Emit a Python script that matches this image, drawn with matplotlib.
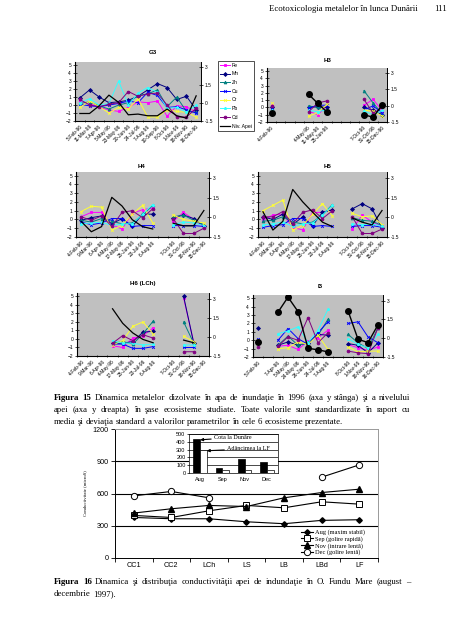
import numpy as np
import matplotlib.pyplot as plt
from matplotlib.lines import Line2D

nan = np.nan

# ---- Figura 15: standardized metals (left axis) and water level (right axis)
metals = ['Fe', 'Mn', 'Zn', 'Cu', 'Cr', 'Pb', 'Cd']

g3_dates = ['5-Feb-96', '11-Mar-96', '7-Apr-96', '5-May-96', '23-May-96', '20-Jun-96',
            '24-Jul-96', '7-Aug-96', '10-Sep-96', '8-Oct-96', '1-Nov-96', '18-Nov-96', '16-Dec-96']
h3_dates = ['4-Feb-96', '', '', '', '4-May-96', '11-May-96', '25-Jun-96',
            '', '', '', '7-Oct-96', '31-Oct-96', '15-Dec-96']
h_dates = ['4-Feb-96', '9-Mar-96', '6-Apr-96', '4-May-96', '17-May-96', '25-Jun-96',
           '23-Jul-96', '6-Aug-96', '', '7-Oct-96', '31-Oct-96', '18-Nov-96', '15-Dec-96']
i3_dates = ['5-Feb-96', '', '7-Apr-96', '5-May-96', '24-May-96', '26-Jun-96',
            '24-Jul-96', '7-Aug-96', '', '8-Oct-96', '1-Nov-96', '18-Nov-96', '16-Dec-96']

G3 = dict(
    Fe=[0.5, 0.2, -0.3, -0.6, -0.8, -0.3, 0.4, 0.3, 0.5, -1.4, -0.1, -0.2, -0.9],
    Mn=[0.9, 1.9, 1.0, 0.3, 0.4, 0.6, 1.1, 1.9, 2.7, 2.2, 0.7, 1.1, -0.6],
    Zn=[0.2, 0.4, -0.1, -0.5, 0.0, 0.3, 1.2, 1.4, 1.9, -0.2, 1.0, -0.8, -0.9],
    Cu=[0.1, -0.1, -0.2, 0.0, 0.2, 0.5, 0.3, 1.6, 1.2, -0.3, -0.2, -0.6, -1.0],
    Cr=[-0.3, 0.5, -0.2, -1.0, -0.3, -0.5, 0.8, -1.5, -1.5, -0.6, -0.8, -0.9, -1.5],
    Pb=[0.3, 0.8, 0.0, 0.2, 3.0, 0.0, 1.5, 2.2, 1.6, -0.4, -0.3, -0.9, 0.0],
    Cd=[0.7, 0.0, -0.2, 0.1, 0.3, 1.7, 1.1, 1.4, 1.5, 0.0, -1.5, -1.5, -0.4],
)
G3_niv = [-0.87, -0.87, -0.22, 0.67, 0.06, -0.98, -0.92, -1.06, -1.06, -0.5, -1.06, -1.26, 0.61]

H3 = dict(
    Fe=[0.3, nan, nan, nan, -0.5, -1.0, 0.2, nan, nan, nan, 0.3, 1.1, -0.5],
    Mn=[0.0, nan, nan, nan, 0.0, 0.1, 0.0, nan, nan, nan, 0.0, -0.4, -1.0],
    Zn=[-0.2, nan, nan, nan, 0.2, 0.0, -0.7, nan, nan, nan, 2.3, 0.6, -0.9],
    Cu=[-0.1, nan, nan, nan, -0.1, 0.3, 0.3, nan, nan, nan, -0.3, 0.2, -0.8],
    Cr=[0.6, nan, nan, nan, -1.2, -0.7, 0.4, nan, nan, nan, -0.4, -0.5, -1.2],
    Pb=[-0.4, nan, nan, nan, -0.4, -0.6, -0.3, nan, nan, nan, -0.5, -1.0, -0.4],
    Cd=[0.2, nan, nan, nan, -0.6, 0.6, 0.9, nan, nan, nan, 1.1, -0.8, 0.0],
)
H3_niv = [-0.64, nan, nan, nan, 1.04, 0.21, -0.58, nan, nan, nan, -0.83, -1.07, 0.09]

H4 = dict(
    Fe=[0.3, 0.8, 0.8, -0.6, -1.1, 0.7, 1.1, 1.3, nan, -0.2, 0.8, 0.0, -0.9],
    Mn=[-0.1, 0.2, 0.4, -0.5, 0.1, -0.8, 0.6, 0.6, nan, 0.2, 0.5, 0.1, -0.8],
    Zn=[-0.1, -0.3, 0.1, -0.2, -0.5, -0.4, 0.5, 1.6, nan, 0.3, 0.5, -0.1, -0.6],
    Cu=[-0.3, -0.6, -0.4, 0.1, 0.1, -0.8, -0.7, -0.7, nan, -0.7, -0.7, -0.7, -0.8],
    Cr=[0.9, 1.5, 1.4, -1.2, -0.7, 0.6, 1.6, -0.4, nan, 0.5, 0.0, -0.2, -0.4],
    Pb=[-0.5, -0.4, -0.3, -0.7, -0.5, -0.5, 0.6, 1.7, nan, -0.6, -0.3, -0.4, -0.7],
    Cd=[0.3, -0.1, 0.4, -0.8, 0.8, 1.0, 0.2, 1.2, nan, 0.1, -1.6, -1.6, -1.0],
)
H4_niv = [-0.31, -1.1, -0.71, 1.52, 0.86, -0.18, -0.71, -0.89, nan, -0.45, -0.65, -0.65, 0.52]

H5 = dict(
    Fe=[-0.1, 0.5, 0.6, -0.9, -1.2, 0.8, 0.8, 1.1, nan, -1.1, 0.5, -0.3, -0.8],
    Mn=[0.3, 0.0, 0.6, -0.6, 0.3, -0.7, 0.8, 1.1, nan, 1.2, 1.8, 1.2, -1.0],
    Zn=[-0.2, -0.1, 0.3, -0.3, -0.5, -0.3, 0.5, 1.7, nan, 0.2, -0.1, -0.2, -0.7],
    Cu=[-0.9, -0.7, -0.6, 0.1, 0.1, -0.8, -0.7, -0.8, nan, -0.8, -0.7, -0.7, -0.9],
    Cr=[1.0, 1.6, 2.2, -1.2, -0.7, 0.6, 1.8, 0.4, nan, 0.7, 0.3, 0.4, -0.6],
    Pb=[-0.6, -0.5, -0.3, -0.8, -0.5, -0.4, 0.5, 1.6, nan, -0.5, -0.6, -0.5, -0.8],
    Cd=[0.3, 0.3, 0.9, -0.5, 0.8, 1.1, 0.1, 1.0, nan, 0.3, -1.6, -1.6, -1.1],
)
H5_niv = [0.42, -0.97, -0.31, 2.12, 1.18, 0.39, -0.37, -0.71, nan, -0.05, -0.37, -0.58, 0.52]

H6 = dict(
    Fe=[nan, nan, nan, -0.8, -1.0, 0.1, 0.4, 1.3, nan, nan, 4.8, -0.4, nan],
    Mn=[nan, nan, nan, -0.5, -0.5, -0.3, 0.8, 0.9, nan, nan, 5.0, -0.5, nan],
    Zn=[nan, nan, nan, -0.5, -0.3, -0.6, 0.6, 2.1, nan, nan, 2.0, -0.5, nan],
    Cu=[nan, nan, nan, -0.6, -0.6, -1.1, -1.1, -0.9, nan, nan, -1.0, -1.0, nan],
    Cr=[nan, nan, nan, -0.7, -0.2, 1.5, 2.0, 0.6, nan, nan, 0.3, -0.3, nan],
    Pb=[nan, nan, nan, -0.2, -0.5, -0.5, -0.7, -0.6, nan, nan, -0.7, -0.7, nan],
    Cd=[nan, nan, nan, -0.5, 0.4, -0.2, 0.5, 0.1, nan, nan, -1.5, -1.5, nan],
)
H6_niv = [nan, nan, nan, 2.21, 1.07, 0.31, -0.2, -0.46, nan, nan, -0.25, -0.46, nan]

I3 = dict(
    Fe=[-0.3, nan, -0.7, -0.6, -1.1, -0.1, 0.3, 1.2, nan, -0.5, -0.9, -1.2, -0.8],
    Mn=[1.5, nan, -0.6, -0.2, -0.6, -0.3, 0.7, 0.6, nan, -0.4, -0.6, -1.5, -0.3],
    Zn=[0.0, nan, -0.6, 0.5, -0.6, -0.3, 0.6, 2.5, nan, 0.7, -0.3, -1.0, 1.5],
    Cu=[0.2, nan, 0.0, 1.4, 0.2, -0.5, 0.9, 2.2, nan, 2.0, 2.2, 0.4, -0.3],
    Cr=[-0.2, nan, -1.0, -0.9, -0.2, -0.5, 0.6, -1.1, nan, -0.8, -1.4, -1.3, -1.3],
    Pb=[-0.1, nan, 0.8, 1.1, 1.6, -0.3, 1.2, 3.7, nan, 0.2, -0.5, -0.9, 0.7],
    Cd=[-0.8, nan, -0.7, 0.4, 0.0, 2.7, -0.3, 0.9, nan, -1.3, -1.5, -1.6, 1.5],
)
I3_niv = [-0.27, nan, 2.08, 3.28, 2.13, -0.8, -0.93, -1.09, nan, 2.19, -0.08, -0.35, 1.07]

# ---- Figura 16: conductivity
sites = ['CC1', 'CC2', 'LCh', 'LS', 'LB', 'LBd', 'LF']
cond_aug = [377, 365, 365, 337, 319, 350, 356]
cond_sep = [396, 377, 439, 489, 467, 523, 501]
cond_nov = [418, 458, 489, 479, 560, 609, 640]
cond_dec = [578, 619, 560, nan, nan, 752, 866]

months = ['Aug', 'Sep', 'Nov', 'Dec']
cota_dunare = [436, 64, 178, 144]
adancime_lf = [297, 38, 40, 40]

caption15 = ["Figura 15 Dinamica metalelor dizolvate în apa de inundaţie în 1996 (axa y stânga) şi a nivelului",
             "apei (axa y dreapta) în şase ecosisteme studiate. Toate valorile sunt standardizate în raport cu",
             "media şi deviaţia standard a valorilor parametrilor în cele 6 ecosisteme prezentate."]
caption16 = ["Figura 16 Dinamica şi distribuţia conductivităţii apei de indundaţie în O. Fundu Mare (august –",
             "decembrie 1997)."]

colors = {'Fe': '#FF00FF', 'Mn': '#000080', 'Zn': '#008080', 'Cu': '#0000FF',
          'Cr': '#FFFF33', 'Pb': '#33FFFF', 'Cd': '#800080'}
markers = {'Fe': 's', 'Mn': 'D', 'Zn': '^', 'Cu': 'x', 'Cr': 'x', 'Pb': '*', 'Cd': 'o'}

W, H = 452, 640
SANS = 'Liberation Sans'
SERIF = 'Liberation Serif'
TICK = 3.5
CAP = 6.3

fig = plt.figure(figsize=(W / 100, H / 100), dpi=100)


def box(x0, y0, x1, y1):
    return [x0 / W, 1 - y1 / H, (x1 - x0) / W, (y1 - y0) / H]


def panel(rect, title, title_xy, dates, data, niv, dots=False):
    ax = fig.add_axes(box(*rect))
    ax.set_facecolor('#C0C0C0')
    x = np.arange(len(dates))
    for m in metals:
        ax.plot(x, data[m], color=colors[m], marker=markers[m], ms=2, lw=0.7, mew=0.6)
    ax.set_xlim(-0.5, len(dates) - 0.5)
    ax.set_ylim(-2, 5.4)
    ax.set_yticks(range(-2, 6))
    ax.set_xticks(x)
    ax.set_xticklabels(dates, rotation=45, ha='right', rotation_mode='anchor',
                       fontsize=TICK, family=SANS)
    ax.set_xticks(np.arange(-0.5, len(dates)), minor=True)
    ax.tick_params(axis='x', which='major', length=0, pad=2)
    ax.tick_params(axis='x', which='minor', length=2, width=0.5, direction='inout')
    ax.tick_params(axis='y', length=2.5, width=0.5, labelsize=TICK, pad=1.5, direction='inout')
    for lbl in ax.get_yticklabels():
        lbl.set_family(SANS)
    ax.spines['top'].set_visible(False)
    for s in ['left', 'bottom', 'right']:
        ax.spines[s].set_linewidth(0.6)

    ax2 = ax.twinx()
    if dots:
        ax2.plot(x, niv, color='k', lw=1.0, marker='o', ms=4)
    else:
        ax2.plot(x, niv, color='k', lw=0.9)
    ax2.set_ylim(-1.5, 3.45)
    ax2.set_yticks([-1.5, 0, 1.5, 3])
    ax2.set_yticklabels(['-1.5', '0', '1.5', '3'], family=SANS)
    ax2.tick_params(axis='y', length=2.5, width=0.5, labelsize=TICK, pad=1.5, direction='inout')
    ax2.spines['top'].set_visible(False)
    ax2.spines['right'].set_linewidth(0.6)
    fig.text(title_xy[0] / W, 1 - title_xy[1] / H, title, ha='center', va='center',
             fontsize=4.4, weight='bold', family=SANS)
    return ax


panel((75, 62, 201, 121), 'G3', (153, 52), g3_dates, G3, G3_niv)
panel((267, 68, 387, 122), 'H3', (328, 60), h3_dates, H3, H3_niv, dots=True)
panel((76, 172, 209, 237), 'H4', (142, 166), h_dates, H4, H4_niv)
panel((258, 172, 387, 237), 'H5', (328, 166), h_dates, H5, H5_niv)
panel((77, 293, 209, 356), 'H6 (LCh)', (143, 284), h_dates, H6, H6_niv)
panel((253, 295, 383, 357), 'I3', (320, 287), i3_dates, I3, I3_niv, dots=True)

# legend of the metal panels
handles = [Line2D([], [], color=colors[m], marker=markers[m], ms=2, lw=0.7, mew=0.6) for m in metals]
handles.append(Line2D([], [], color='k', lw=0.9))
leg = fig.legend(handles, metals + ['Niv. Apei'], loc='upper left',
                 bbox_to_anchor=(215 / W, 1 - 58 / H), prop={'family': SANS, 'size': 3.7},
                 frameon=True, fancybox=False, edgecolor='black', borderpad=0.4,
                 labelspacing=0.72, handlelength=2.0, handletextpad=0.4)
leg.get_frame().set_linewidth(0.6)

# ---- Figura 16 main chart
ax = fig.add_axes(box(115, 429, 378, 558))
xs = np.arange(len(sites))
ax.plot(xs, cond_aug, color='k', lw=0.8, marker='D', ms=2.8, label='Aug (maxim stabil)')
ax.plot(xs, cond_sep, color='k', lw=0.8, marker='s', ms=4.2, mfc='white', mew=0.7,
        label='Sep (golire rapidă)')
ax.plot(xs, cond_nov, color='k', lw=0.8, marker='^', ms=3.8, label='Nov (intrare lentă)')
ax.plot(xs, cond_dec, color='k', lw=0.8, marker='o', ms=4.5, mfc='white', mew=0.7,
        label='Dec (golire lentă)')
ax.set_xlim(-0.5, len(sites) - 0.5)
ax.set_ylim(0, 1200)
ax.set_yticks([0, 300, 600, 900, 1200])
ax.set_xticks(xs)
ax.set_xticklabels(sites, family=SANS, fontsize=5.2)
ax.set_xticks(np.arange(-0.5, len(sites)), minor=True)
ax.tick_params(axis='x', which='major', length=0, pad=3)
ax.tick_params(axis='x', which='minor', length=3, width=0.6)
ax.tick_params(axis='y', length=3, width=0.6, labelsize=5.2, pad=1.5)
for lbl in ax.get_yticklabels():
    lbl.set_family(SANS)
for v in [300, 600, 900]:
    ax.axhline(v, color='k', lw=0.8, zorder=0)
ax.spines['top'].set_color('#999999')
ax.spines['right'].set_color('#999999')
for s in ax.spines.values():
    s.set_linewidth(0.7)
ax.set_ylabel('Conductivitate (microS)', family=SERIF, fontsize=3.4)
ax.yaxis.set_label_coords((87 - 115) / 263, 0.5)
ax.legend(loc='upper left', bbox_to_anchor=(298 / W, 1 - 527 / H), bbox_transform=fig.transFigure,
          frameon=False, prop={'family': SERIF, 'size': 4.6}, labelspacing=0.12,
          handlelength=2.0, handletextpad=0.3, borderaxespad=0)

# inset bars
ins = fig.add_axes(box(189, 434, 278, 473))
xm = np.arange(len(months))
ins.bar(xm - 0.15, cota_dunare, width=0.3, color='black', edgecolor='black', lw=0.5, zorder=2)
ins.bar(xm + 0.15, adancime_lf, width=0.3, color='white', edgecolor='black', lw=0.5, zorder=2)
ins.set_xlim(-0.5, len(months) - 0.5)
ins.set_ylim(0, 500)
ins.set_yticks(range(0, 501, 100))
ins.grid(axis='y', color='k', lw=0.5)
ins.set_axisbelow(True)
ins.set_xticks(xm)
ins.set_xticklabels(months, family=SANS, fontsize=4.0)
ins.tick_params(axis='x', length=0, pad=3)
ins.tick_params(axis='y', length=1.5, width=0.5, labelsize=4.0, pad=1)
for lbl in ins.get_yticklabels():
    lbl.set_family(SANS)
for s in ins.spines.values():
    s.set_linewidth(0.5)
ins.annotate('Cota la Dunăre', xy=(0.0, 425), xytext=(0.62, 455), fontsize=4.4, family=SERIF,
             va='center', arrowprops=dict(arrowstyle='-|>', color='k', lw=0.8, mutation_scale=4,
                                          shrinkA=0, shrinkB=0))
ins.annotate('Adâncimea la LF', xy=(0.3, 285), xytext=(1.21, 310), fontsize=4.4, family=SERIF,
             va='center', arrowprops=dict(arrowstyle='-|>', color='k', lw=0.8, mutation_scale=4,
                                          shrinkA=0, shrinkB=0))

# ---- page text (justified caption lines)
renderer = fig.canvas.get_renderer()


def text_line(y, line, nbold=0, justify=True, x0=54, x1=410, size=CAP):
    words = line.split(' ')
    ts = [fig.text(0, 1 - y / H, w, fontsize=size, family=SERIF, va='baseline',
                   weight='bold' if i < nbold else 'normal') for i, w in enumerate(words)]
    ws = [t.get_window_extent(renderer).width for t in ts]
    space = size * 0.25 * 100 / 72
    gap = (x1 - x0 - sum(ws)) / (len(ws) - 1) if justify else space
    gap = max(gap, space * 0.6)
    x = x0
    for t, w in zip(ts, ws):
        t.set_x(x / W)
        x += w + gap


text_line(400, caption15[0], nbold=2)
text_line(412, caption15[1])
text_line(424, caption15[2], justify=False)
text_line(584, caption16[0], nbold=2)
text_line(596, caption16[1], justify=False)

fig.text(418 / W, 1 - 11 / H, 'Ecotoxicologia metalelor în lunca Dunării', ha='right',
         va='baseline', fontsize=CAP, family=SERIF)
fig.text(447 / W, 1 - 11 / H, '111', ha='right', va='baseline', fontsize=CAP, family=SERIF)

fig.savefig('out.png', dpi=100)
